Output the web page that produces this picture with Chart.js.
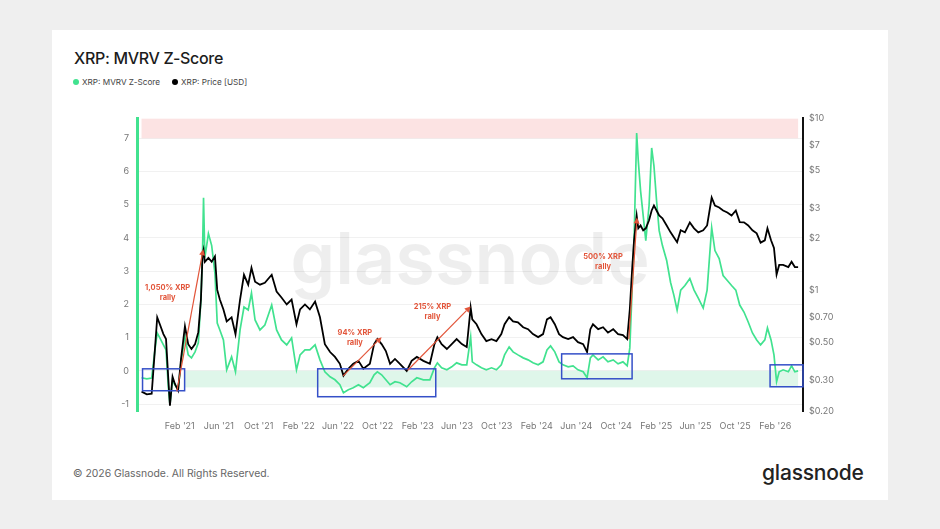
<!DOCTYPE html>
<html><head><meta charset="utf-8">
<script src="https://cdn.jsdelivr.net/npm/chart.js@4.4.1/dist/chart.umd.min.js"></script>
<style>
html,body{margin:0;padding:0;width:940px;height:529px;background:#efefef;overflow:hidden;font-family:Inter,"Noto Sans",sans-serif;}
#card{position:absolute;left:52px;top:30px;width:836px;height:470px;background:#fff;}
#title{position:absolute;left:74px;top:49.5px;font-size:16px;line-height:17px;font-weight:500;color:#1c1c1c;letter-spacing:-0.3px;white-space:nowrap;}
#legend{position:absolute;left:73px;top:77px;height:10px;font-size:8.2px;line-height:10px;color:#444;display:flex;align-items:center;white-space:nowrap;}
.dot{display:inline-block;width:6px;height:6px;border-radius:50%;margin-right:3px;}
.item{display:flex;align-items:center;margin-right:12px;}
#footer{position:absolute;left:73px;top:469px;font-size:10.4px;line-height:10px;color:#666;white-space:nowrap;}
#logo{position:absolute;left:762px;top:462px;font-size:21px;line-height:21px;font-weight:500;color:#222;letter-spacing:-0.2px;white-space:nowrap;}
#wrap{position:absolute;left:100px;top:105px;width:760px;height:340px;}
</style>
</head><body>
<div id="card"></div>
<div id="title">XRP: MVRV Z-Score</div>
<div id="legend"><span class="item"><span class="dot" style="background:#41e28f"></span>XRP: MVRV Z-Score</span><span class="item"><span class="dot" style="background:#000"></span>XRP: Price [USD]</span></div>
<div id="footer">© 2026 Glassnode. All Rights Reserved.</div>
<div id="logo">glassnode</div>
<div id="wrap"><canvas id="c" width="760" height="340"></canvas></div>
<script>
const dates = [
'2020-10-07','2020-10-23','2020-11-07','2020-11-17','2020-11-24','2020-12-02','2020-12-13','2020-12-21','2020-12-28','2021-01-02',
'2021-01-10','2021-01-17','2021-01-27','2021-02-05','2021-02-17','2021-02-27','2021-03-09','2021-03-20','2021-03-30','2021-04-07',
'2021-04-12','2021-04-15','2021-04-19','2021-04-30','2021-05-10','2021-05-20','2021-05-27','2021-06-04','2021-06-15','2021-06-25',
'2021-07-10','2021-07-22','2021-08-05','2021-08-17','2021-08-30','2021-09-09','2021-09-20','2021-10-05','2021-10-20','2021-11-10',
'2021-11-25','2021-12-10','2021-12-26','2022-01-10','2022-01-25','2022-02-05','2022-02-20','2022-03-07','2022-03-23','2022-04-07',
'2022-04-22','2022-05-08','2022-05-23','2022-06-07','2022-06-18','2022-07-03','2022-07-18','2022-08-03','2022-08-18','2022-09-07',
'2022-09-20','2022-09-30','2022-10-13','2022-10-26','2022-11-08','2022-11-23','2022-12-08','2022-12-29','2023-01-13','2023-01-29',
'2023-02-18','2023-03-10','2023-03-24','2023-04-02','2023-04-15','2023-05-01','2023-05-16','2023-05-31','2023-06-16','2023-07-01',
'2023-07-13','2023-07-18','2023-07-31','2023-08-15','2023-08-30','2023-09-15','2023-09-30','2023-10-15','2023-10-25','2023-11-08',
'2023-11-20','2023-12-05','2023-12-21','2024-01-05','2024-01-20','2024-02-05','2024-02-20','2024-03-03','2024-03-14','2024-03-27',
'2024-04-09','2024-04-21','2024-05-07','2024-05-22','2024-06-06','2024-06-22','2024-07-04','2024-07-14','2024-07-22','2024-08-07',
'2024-08-22','2024-09-06','2024-09-22','2024-10-07','2024-10-22','2024-11-04','2024-11-12','2024-11-19','2024-11-25','2024-12-03',
'2024-12-08','2024-12-15','2024-12-23','2024-12-31','2025-01-10','2025-01-18','2025-01-25','2025-02-02','2025-02-10','2025-02-20',
'2025-03-05','2025-03-17','2025-03-27','2025-04-06','2025-04-17','2025-04-30','2025-05-15','2025-05-28','2025-06-10','2025-06-25',
'2025-07-07','2025-07-21','2025-07-31','2025-08-13','2025-08-25','2025-09-07','2025-09-20','2025-10-03','2025-10-15','2025-10-28',
'2025-11-10','2025-11-23','2025-12-06','2025-12-18','2025-12-31','2026-01-08','2026-01-19','2026-01-28','2026-02-05','2026-02-13',
'2026-02-25','2026-03-13','2026-03-23','2026-04-02','2026-04-12'
];
const zScore = [
-0.21,-0.24,-0.22,0.63,1.14,0.99,0.78,0.63,-0.48,-1.02,
-0.27,-0.42,-0.57,0.27,1.02,0.48,0.39,0.57,0.84,2.13,
3.62,5.21,3.41,4.13,3.77,2.93,1.44,1.23,0.93,0.03,
0.42,-0.03,1.23,1.92,1.83,2.34,1.53,1.23,1.38,1.98,
1.23,0.93,0.78,0.99,0.03,0.48,0.63,0.63,0.78,0.33,
-0.03,-0.18,-0.27,-0.42,-0.66,-0.57,-0.51,-0.42,-0.51,-0.36,
-0.12,-0.03,-0.12,-0.27,-0.42,-0.33,-0.36,-0.48,-0.33,-0.21,
-0.27,-0.27,0.09,0.24,0.09,0.03,0.12,0.24,0.18,0.18,
1.02,0.27,0.18,0.09,0.03,0.09,0.03,0.18,0.48,0.72,
0.57,0.48,0.39,0.33,0.24,0.18,0.27,0.63,0.75,0.57,
0.27,0.18,0.12,0.15,0.03,-0.03,-0.21,0.39,0.48,0.33,
0.42,0.27,0.33,0.21,0.27,0.15,0.69,2.43,3.92,7.16,
6.32,5.42,4.67,3.92,4.97,6.71,6.17,5.12,4.22,3.77,
3.32,2.66,2.28,1.83,2.43,2.57,2.78,2.43,2.19,1.89,
2.43,4.31,3.62,3.38,2.87,2.72,2.57,2.43,1.98,1.77,
1.47,1.14,0.93,0.78,0.93,1.29,0.93,0.48,-0.33,-0.03,
0.03,-0.03,0.15,-0.03,0.0
];
const priceUsd = [
0.259,0.250,0.252,0.458,0.700,0.638,0.559,0.523,0.308,0.215,
0.316,0.288,0.263,0.401,0.621,0.489,0.458,0.489,0.574,0.888,
1.61,1.72,1.47,1.55,1.47,1.58,1.01,0.888,0.778,0.663,
0.700,0.559,0.888,1.236,1.083,1.356,1.127,1.083,1.11,1.236,
0.987,0.912,0.831,0.888,0.638,0.778,0.831,0.778,0.865,0.700,
0.489,0.440,0.412,0.376,0.321,0.352,0.376,0.391,0.352,0.376,
0.489,0.523,0.489,0.446,0.376,0.401,0.376,0.342,0.391,0.412,
0.391,0.376,0.489,0.537,0.489,0.458,0.489,0.523,0.489,0.470,
0.798,0.681,0.638,0.559,0.509,0.523,0.509,0.559,0.638,0.700,
0.663,0.655,0.613,0.597,0.559,0.537,0.559,0.681,0.700,0.638,
0.559,0.537,0.523,0.537,0.502,0.489,0.440,0.597,0.638,0.597,
0.613,0.570,0.597,0.559,0.551,0.523,0.778,1.32,1.96,2.73,
2.30,2.39,2.24,2.30,2.56,2.92,3.12,2.92,2.73,2.63,
2.39,2.18,2.04,1.91,2.24,2.18,2.49,2.30,2.18,2.24,
2.39,3.47,3.12,3.04,2.92,2.84,2.73,2.92,2.50,2.49,
2.39,2.24,2.15,1.90,1.96,2.30,1.96,1.77,1.24,1.41,
1.41,1.37,1.47,1.37,1.37
];
const zTicks = [-1,0,1,2,3,4,5,6,7];
const priceTicks = [0.2,0.3,0.5,0.7,1,2,3,5,7,10];
const priceTickLabels = ['$0.20','$0.30','$0.50','$0.70','$1','$2','$3','$5','$7','$10'];
const xTickDates = ['2021-02-01','2021-06-01','2021-10-01','2022-02-01','2022-06-01','2022-10-01','2023-02-01','2023-06-01','2023-10-01','2024-02-01','2024-06-01','2024-10-01','2025-02-01','2025-06-01','2025-10-01','2026-02-01'];
const xTickLabels = ["Feb '21","Jun '21","Oct '21","Feb '22","Jun '22","Oct '22","Feb '23","Jun '23","Oct '23","Feb '24","Jun '24","Oct '24","Feb '25","Jun '25","Oct '25","Feb '26"];
const xRange = ['2020-09-23','2026-04-27'];
const zRange = [-1.21, 7.6];

// bands
const redZoneZ = 7;
const greenZoneZ = [0, -0.5];
const greenZoneStart = '2021-02-16';

// blue boxes
const boxStart = ['2020-10-10','2022-03-31','2024-04-17','2026-01-16'];
const boxEnd = ['2021-02-16','2023-03-28','2024-11-19','2026-04-27'];
const boxTopZ = [0.06, 0.06, 0.51, 0.18];
const boxBottomZ = [-0.6, -0.78, -0.24, -0.48];

// rally arrows (price coords)
const arrowFromDate = ['2021-01-23','2022-06-17','2023-01-01','2024-11-09'];
const arrowFromPrice = [0.26, 0.32, 0.345, 0.523];
const arrowToDate = ['2021-04-14','2022-10-13','2023-07-13','2024-12-04'];
const arrowToPrice = [1.74, 0.537, 0.81, 2.66];
const rallyText = ['1,050% XRP','94% XRP','215% XRP','500% XRP'];
const rallyTextDate = ['2020-12-26','2022-07-23','2023-03-18','2024-08-22'];
const rallyTextPrice = [1.04, 0.566, 0.809, 1.57];

const dayNum = s => Date.parse(s + 'T00:00:00Z') / 86400000;
const GREEN = '#41e28f';
const RED = '#e2553a';
const BLUE = '#3550c8';

const bgPlugin = {
  id: 'bg',
  beforeDatasetsDraw(chart) {
    const {ctx, chartArea: a, scales} = chart;
    const x = scales.x, yZ = scales.yZ;
    ctx.save();
    ctx.beginPath(); ctx.rect(a.left, a.top, a.right - a.left, a.bottom - a.top); ctx.clip();
    // watermark
    ctx.font = '600 72px Inter, "Noto Sans", sans-serif';
    ctx.fillStyle = 'rgba(0,0,0,0.065)';
    ctx.textAlign = 'center'; ctx.textBaseline = 'alphabetic';
    ctx.fillText('glassnode', (a.left + a.right) / 2, a.top + 0.565 * (a.bottom - a.top));
    // red zone
    const xs = x.getPixelForValue(dayNum(dates[0]));
    const xe = x.getPixelForValue(dayNum(dates[dates.length - 1]));
    ctx.fillStyle = 'rgba(250,200,200,0.5)';
    const yr = yZ.getPixelForValue(redZoneZ);
    ctx.fillRect(xs, a.top, xe - xs, yr - a.top);
    // green zone
    const gs = x.getPixelForValue(dayNum(greenZoneStart));
    const g1 = yZ.getPixelForValue(greenZoneZ[0]), g2 = yZ.getPixelForValue(greenZoneZ[1]);
    ctx.fillStyle = 'rgba(170,232,200,0.38)';
    ctx.fillRect(gs, g1, xe - gs, g2 - g1);
    ctx.restore();
  }
};

const annoPlugin = {
  id: 'anno',
  afterDatasetsDraw(chart) {
    const {ctx, scales} = chart;
    const x = scales.x, yZ = scales.yZ, yP = scales.yPrice;
    ctx.save();
    ctx.strokeStyle = BLUE; ctx.lineWidth = 1.5;
    for (let i = 0; i < boxStart.length; i++) {
      const x1 = x.getPixelForValue(dayNum(boxStart[i])), x2 = x.getPixelForValue(dayNum(boxEnd[i]));
      const y1 = yZ.getPixelForValue(boxTopZ[i]), y2 = yZ.getPixelForValue(boxBottomZ[i]);
      ctx.strokeRect(x1, y1, x2 - x1, y2 - y1);
    }
    ctx.strokeStyle = RED; ctx.fillStyle = RED; ctx.lineWidth = 1.2;
    for (let i = 0; i < arrowFromDate.length; i++) {
      const x1 = x.getPixelForValue(dayNum(arrowFromDate[i])), y1 = yP.getPixelForValue(arrowFromPrice[i]);
      const x2 = x.getPixelForValue(dayNum(arrowToDate[i])), y2 = yP.getPixelForValue(arrowToPrice[i]);
      const ang = Math.atan2(y2 - y1, x2 - x1);
      const L = 6, W = 3;
      const bx = x2 - L * Math.cos(ang), by = y2 - L * Math.sin(ang);
      ctx.beginPath(); ctx.moveTo(x1, y1); ctx.lineTo(bx, by); ctx.stroke();
      ctx.beginPath();
      ctx.moveTo(x2, y2);
      ctx.lineTo(bx + W * Math.sin(ang), by - W * Math.cos(ang));
      ctx.lineTo(bx - W * Math.sin(ang), by + W * Math.cos(ang));
      ctx.closePath(); ctx.fill();
    }
    ctx.font = '700 7.5px Inter, "Noto Sans", sans-serif';
    ctx.textAlign = 'center'; ctx.textBaseline = 'middle';
    for (let i = 0; i < rallyText.length; i++) {
      const tx = x.getPixelForValue(dayNum(rallyTextDate[i])), ty = yP.getPixelForValue(rallyTextPrice[i]);
      ctx.fillText(rallyText[i], tx, ty);
      ctx.fillText('rally', tx, ty + 10);
    }
    ctx.restore();
  }
};

const tickFont = {family: 'Inter, "Noto Sans", sans-serif', size: 9};

new Chart(document.getElementById('c'), {
  type: 'line',
  data: {
    datasets: [
      {label: 'XRP: Price [USD]', yAxisID: 'yPrice', order: 0,
       data: dates.map((d, i) => ({x: dayNum(d), y: priceUsd[i]})),
       borderColor: '#000', borderWidth: 1.8, pointRadius: 0, tension: 0},
      {label: 'XRP: MVRV Z-Score', yAxisID: 'yZ', order: 1,
       data: dates.map((d, i) => ({x: dayNum(d), y: zScore[i]})),
       borderColor: GREEN, borderWidth: 1.7, pointRadius: 0, tension: 0}
    ]
  },
  options: {
    responsive: false, animation: false, devicePixelRatio: 1,
    layout: {padding: {top: 12, left: 0, right: 0, bottom: 0}},
    plugins: {legend: {display: false}, tooltip: {enabled: false}},
    scales: {
      x: {
        type: 'linear', min: dayNum(xRange[0]), max: dayNum(xRange[1]),
        afterBuildTicks: s => { s.ticks = xTickDates.map(d => ({value: dayNum(d)})); },
        afterFit: s => { s.height = 34; },
        ticks: {autoSkip: false, maxRotation: 0, padding: 10, color: '#777', font: tickFont,
                callback: (v, i) => xTickLabels[i]},
        grid: {display: true, drawOnChartArea: false, drawTicks: false},
        border: {display: false}
      },
      yZ: {
        type: 'linear', position: 'left', min: zRange[0], max: zRange[1],
        afterBuildTicks: s => { s.ticks = zTicks.map(v => ({value: v})); },
        afterFit: s => { s.width = 37; },
        ticks: {padding: 8, color: '#777', font: tickFont, callback: v => String(v)},
        grid: {color: '#f1f1f1', lineWidth: 1, drawTicks: false},
        border: {display: true, color: GREEN, width: 3}
      },
      yPrice: {
        type: 'logarithmic', position: 'right', min: priceTicks[0], max: priceTicks[priceTicks.length - 1],
        afterBuildTicks: s => { s.ticks = priceTicks.map(v => ({value: v})); },
        afterFit: s => { s.width = 57; },
        ticks: {padding: 6, color: '#777', font: tickFont, callback: (v, i) => priceTickLabels[i]},
        grid: {display: true, drawOnChartArea: false, drawTicks: false},
        border: {display: true, color: '#111', width: 2}
      }
    }
  },
  plugins: [bgPlugin, annoPlugin]
});
</script>
</body></html>
